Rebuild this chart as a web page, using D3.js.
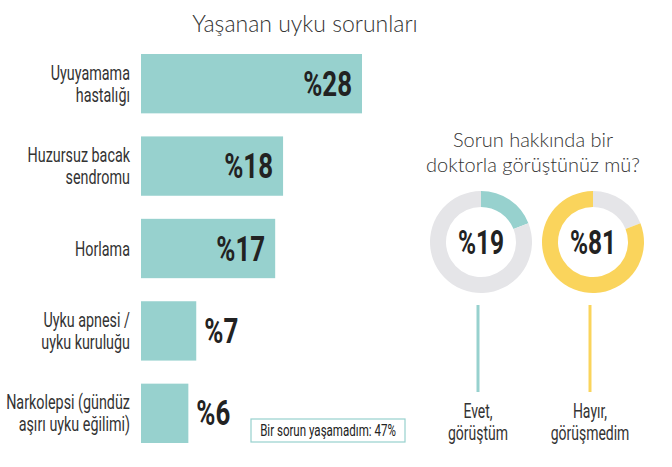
<!DOCTYPE html>
<html>
<head>
<meta charset="utf-8">
<script src="https://cdn.jsdelivr.net/npm/d3@7"></script>
<style>
  body { margin: 0; background: #fff; }
  .cond { font-family: Roboto, "Noto Sans", sans-serif; }
  .thin { font-family: Lato, "Noto Sans", sans-serif; font-weight: 300; }
</style>
</head>
<body>
<svg width="672" height="467"></svg>
<script>
// bar data
const categories = [
  ["Uyuyamama", "hastalığı"],
  ["Huzursuz bacak", "sendromu"],
  ["Horlama"],
  ["Uyku apnesi /", "uyku kuruluğu"],
  ["Narkolepsi (gündüz", "aşırı uyku eğilimi)"]
];
const values = [28, 18, 17, 7, 6];
const noteText = "Bir sorun yaşamadım: 47%";

// donut data
const donutTitle = ["Sorun hakkında bir", "doktorla görüştünüz mü?"];
const donutValues = [19, 81];
const donutLabels = [["Evet,", "görüştüm"], ["Hayır,", "görüşmedim"]];
const donutColors = ["#97d1ce", "#fad45c"];

const teal = "#97d1ce";
const grey = "#e5e5e8";
const ink = "#222";

const svg = d3.select("svg");

// no condensed font installed, so narrow the glyphs horizontally
function condText(parent, x, y, lines, o) {
  const g = parent.append("g")
    .attr("transform", `translate(${x},${y}) scale(${o.k || 0.7},1)`);
  const t = g.append("text")
    .attr("class", "cond")
    .attr("font-size", o.size)
    .attr("font-weight", o.weight || "normal")
    .attr("fill", o.fill || (o.weight ? ink : "#333"))
    .attr("text-anchor", o.anchor);
  lines.forEach((l, j) => {
    t.append("tspan").attr("x", 0).attr("dy", j ? o.lead : 0).text(l);
  });
  return g;
}

// title
svg.append("text")
  .attr("class", "thin")
  .attr("x", 305).attr("y", 32)
  .attr("text-anchor", "middle")
  .attr("font-size", 23)
  .attr("fill", "#333")
  .text("Yaşanan uyku sorunları");

// scales
const x = d3.scaleLinear().domain([0, 28]).range([141, 362]);
const y = d3.scaleBand().domain(d3.range(values.length)).range([54, 443]).paddingInner(0.28);

const rows = svg.append("g");

values.forEach((d, i) => {
  const mid = y(i) + y.bandwidth() / 2;
  rows.append("rect")
    .attr("x", x(0))
    .attr("y", y(i))
    .attr("width", x(d) - x(0))
    .attr("height", y.bandwidth())
    .attr("fill", teal);

  // value label: inside when the bar is wide enough, outside otherwise
  const inside = d > 10;
  condText(rows, inside ? x(d) - 10 : x(d) + 8, mid + 12, ["%" + d],
    { size: 35, k: 0.74, anchor: inside ? "end" : "start", weight: "bold" });

  // category label
  const lines = categories[i];
  condText(rows, 130, lines.length === 1 ? mid + 7 : mid - 4, lines,
    { size: 20.5, anchor: "end", lead: 22 });
});

// note box
const note = svg.append("g").attr("transform", "translate(251,419)");
note.append("rect")
  .attr("width", 154).attr("height", 23)
  .attr("fill", "#fff")
  .attr("stroke", teal)
  .attr("stroke-width", 1.2);
condText(note, 77, 17, [noteText], { size: 16.5, anchor: "middle", fill: ink });

// donut title
svg.append("text")
  .attr("class", "thin")
  .attr("x", 533).attr("y", 147)
  .attr("text-anchor", "middle")
  .attr("font-size", 20)
  .attr("fill", "#333")
  .selectAll("tspan")
  .data(donutTitle)
  .enter()
  .append("tspan")
  .attr("x", 533)
  .attr("dy", (d, i) => i ? 25 : 0)
  .text(d => d);

// donuts
const cx = d3.scalePoint().domain(d3.range(donutValues.length)).range([481, 593]);
const arc = d3.arc().innerRadius(35).outerRadius(51);
const pie = d3.pie().sort(null).value(d => d.v);

donutValues.forEach((v, i) => {
  const g = svg.append("g").attr("transform", `translate(${cx(i)},242)`);
  // first donut: share from 12 o'clock; second: grey first, then share
  const parts = i === 0
    ? [{ v: v, c: donutColors[i] }, { v: 100 - v, c: grey }]
    : [{ v: 100 - v, c: grey }, { v: v, c: donutColors[i] }];
  g.selectAll("path")
    .data(pie(parts))
    .enter()
    .append("path")
    .attr("d", arc)
    .attr("fill", d => d.data.c);
  condText(g, 0, 12, ["%" + v], { size: 34, k: 0.72, anchor: "middle", weight: "bold" });

  svg.append("line")
    .attr("x1", cx(i) - 3).attr("x2", cx(i) - 3)
    .attr("y1", 305).attr("y2", 392)
    .attr("stroke", donutColors[i])
    .attr("stroke-width", 3);

  condText(svg, cx(i) - 3, 418, donutLabels[i], { size: 20, anchor: "middle", lead: 22 });
});
</script>
</body>
</html>
